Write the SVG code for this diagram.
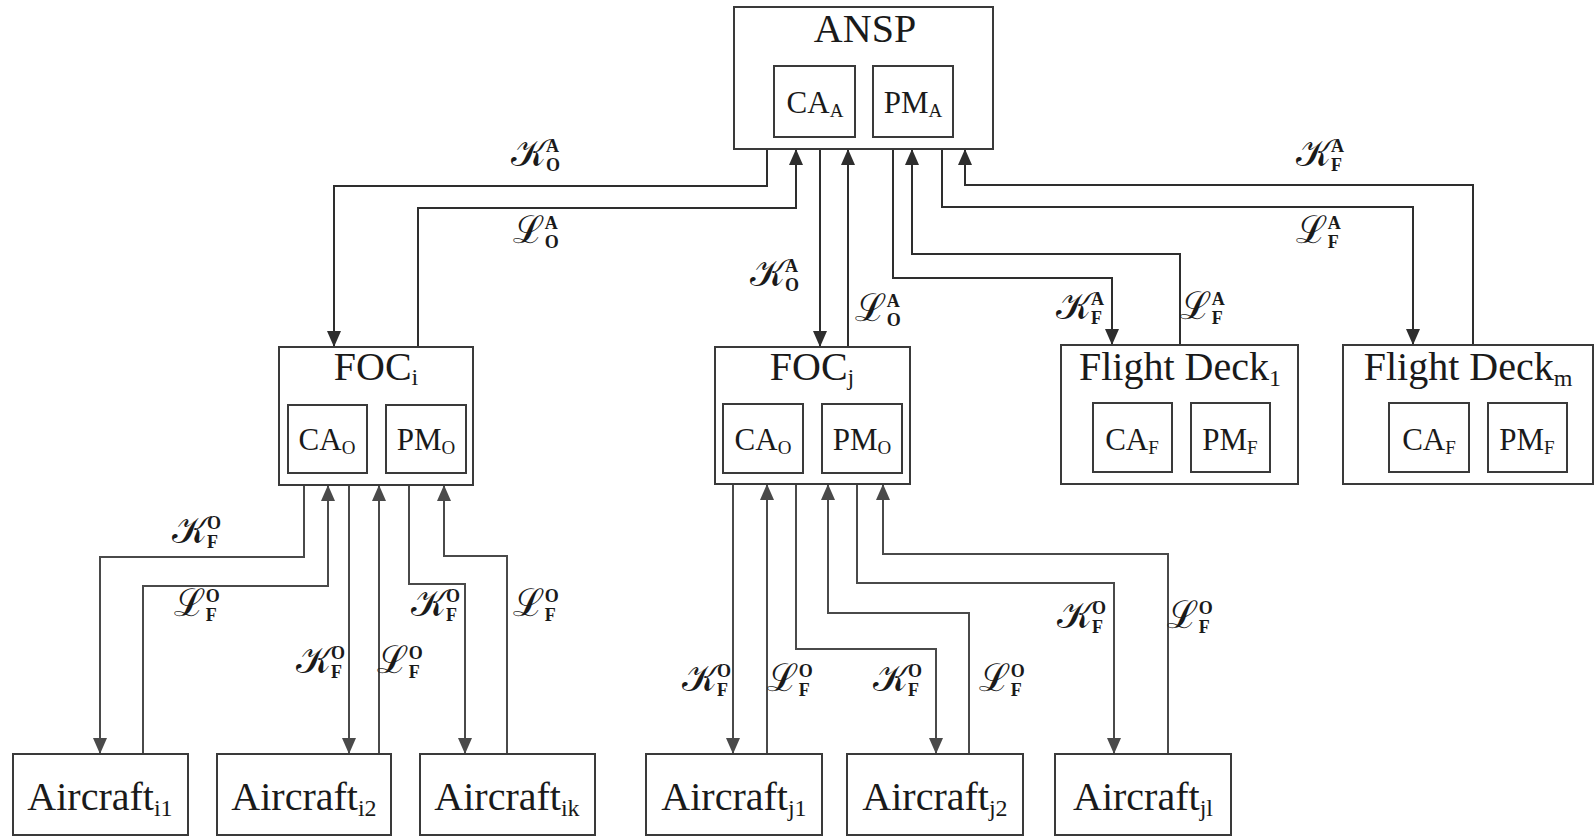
<svg xmlns="http://www.w3.org/2000/svg" width="1596" height="836" viewBox="0 0 1596 836">
<style>
.box{fill:#fff;stroke:#3a3a3a;stroke-width:2}
.inner{fill:#fff;stroke:#3a3a3a;stroke-width:2}
.t{font-family:"Liberation Serif","Times New Roman",serif;fill:#1a1a1a}
.title{font-size:40px}
.in{font-size:31px}
.sub{font-size:24px}
.isub{font-size:19px}
.c{fill:none;stroke:#2e2e2e;stroke-width:2}
.c2{fill:none;stroke:#4a4a4a;stroke-width:2}
.lb{font-family:"DejaVu Serif","Noto Sans",serif;font-size:38px;fill:#1a1a1a}
.s{font-family:"Liberation Serif",serif;font-size:18px;font-weight:bold}
</style>
<defs>
<marker id="ah" markerWidth="16" markerHeight="14" refX="16" refY="7" orient="auto" markerUnits="userSpaceOnUse"><path d="M0,0 L16,7 L0,14 Z" fill="#2e2e2e"/></marker>
<marker id="ah2" markerWidth="16" markerHeight="14" refX="16" refY="7" orient="auto" markerUnits="userSpaceOnUse"><path d="M0,0 L16,7 L0,14 Z" fill="#4a4a4a"/></marker>
</defs>

<g id="connectors">
<path class="c" marker-end="url(#ah)" d="M767,149 V186 H334 V347"/>
<path class="c" marker-end="url(#ah)" d="M418,347 V208 H796 V149"/>
<path class="c" marker-end="url(#ah)" d="M820,149 V347"/>
<path class="c" marker-end="url(#ah)" d="M848,347 V149"/>
<path class="c" marker-end="url(#ah)" d="M893,149 V278 H1112 V345"/>
<path class="c" marker-end="url(#ah)" d="M1180,345 V254 H912 V149"/>
<path class="c" marker-end="url(#ah)" d="M942,149 V207 H1413 V345"/>
<path class="c" marker-end="url(#ah)" d="M1473,345 V185 H965 V149"/>

<path class="c2" marker-end="url(#ah2)" d="M304,485 V557 H100 V754"/>
<path class="c2" marker-end="url(#ah2)" d="M143,754 V586 H328 V485"/>
<path class="c2" marker-end="url(#ah2)" d="M349,485 V754"/>
<path class="c2" marker-end="url(#ah2)" d="M379,754 V485"/>
<path class="c2" marker-end="url(#ah2)" d="M409,485 V584 H465 V754"/>
<path class="c2" marker-end="url(#ah2)" d="M507,754 V556 H444 V485"/>

<path class="c2" marker-end="url(#ah2)" d="M733,484 V754"/>
<path class="c2" marker-end="url(#ah2)" d="M767,754 V484"/>
<path class="c2" marker-end="url(#ah2)" d="M796,484 V649 H936 V754"/>
<path class="c2" marker-end="url(#ah2)" d="M969,754 V613 H828 V484"/>
<path class="c2" marker-end="url(#ah2)" d="M857,484 V583 H1114 V754"/>
<path class="c2" marker-end="url(#ah2)" d="M1168,754 V554 H883 V484"/>
</g>

<g id="labels">
<text class="lb" x="511" y="166">𝒦<tspan class="s" dy="-14">A</tspan><tspan class="s" dx="-13" dy="19">O</tspan></text>
<text class="lb" x="513" y="243">ℒ<tspan class="s" dy="-14">A</tspan><tspan class="s" dx="-13" dy="19">O</tspan></text>
<text class="lb" x="750" y="286">𝒦<tspan class="s" dy="-14">A</tspan><tspan class="s" dx="-13" dy="19">O</tspan></text>
<text class="lb" x="855" y="321">ℒ<tspan class="s" dy="-14">A</tspan><tspan class="s" dx="-13" dy="19">O</tspan></text>
<text class="lb" x="1056" y="319">𝒦<tspan class="s" dy="-14">A</tspan><tspan class="s" dx="-13" dy="19">F</tspan></text>
<text class="lb" x="1180" y="319">ℒ<tspan class="s" dy="-14">A</tspan><tspan class="s" dx="-13" dy="19">F</tspan></text>
<text class="lb" x="1296" y="166">𝒦<tspan class="s" dy="-14">A</tspan><tspan class="s" dx="-13" dy="19">F</tspan></text>
<text class="lb" x="1296" y="243">ℒ<tspan class="s" dy="-14">A</tspan><tspan class="s" dx="-13" dy="19">F</tspan></text>

<text class="lb" x="172" y="543">𝒦<tspan class="s" dy="-14">O</tspan><tspan class="s" dx="-14" dy="19">F</tspan></text>
<text class="lb" x="174" y="616">ℒ<tspan class="s" dy="-14">O</tspan><tspan class="s" dx="-14" dy="19">F</tspan></text>
<text class="lb" x="296" y="673">𝒦<tspan class="s" dy="-14">O</tspan><tspan class="s" dx="-14" dy="19">F</tspan></text>
<text class="lb" x="377" y="673">ℒ<tspan class="s" dy="-14">O</tspan><tspan class="s" dx="-14" dy="19">F</tspan></text>
<text class="lb" x="411" y="616">𝒦<tspan class="s" dy="-14">O</tspan><tspan class="s" dx="-14" dy="19">F</tspan></text>
<text class="lb" x="513" y="616">ℒ<tspan class="s" dy="-14">O</tspan><tspan class="s" dx="-14" dy="19">F</tspan></text>
<text class="lb" x="682" y="691">𝒦<tspan class="s" dy="-14">O</tspan><tspan class="s" dx="-14" dy="19">F</tspan></text>
<text class="lb" x="767" y="691">ℒ<tspan class="s" dy="-14">O</tspan><tspan class="s" dx="-14" dy="19">F</tspan></text>
<text class="lb" x="873" y="691">𝒦<tspan class="s" dy="-14">O</tspan><tspan class="s" dx="-14" dy="19">F</tspan></text>
<text class="lb" x="979" y="691">ℒ<tspan class="s" dy="-14">O</tspan><tspan class="s" dx="-14" dy="19">F</tspan></text>
<text class="lb" x="1057" y="628">𝒦<tspan class="s" dy="-14">O</tspan><tspan class="s" dx="-14" dy="19">F</tspan></text>
<text class="lb" x="1167" y="628">ℒ<tspan class="s" dy="-14">O</tspan><tspan class="s" dx="-14" dy="19">F</tspan></text>
</g>

<g id="ansp">
<rect class="box" x="734" y="7" width="259" height="142"/>
<text class="t title" x="865" y="42" text-anchor="middle">ANSP</text>
<rect class="inner" x="774" y="66" width="81" height="71"/>
<text class="t in" x="815" y="113" text-anchor="middle">CA<tspan class="isub" dy="4">A</tspan></text>
<rect class="inner" x="873" y="66" width="80" height="71"/>
<text class="t in" x="913" y="113" text-anchor="middle">PM<tspan class="isub" dy="4">A</tspan></text>
</g>

<g id="foc-i">
<rect class="box" x="279" y="347" width="194" height="138"/>
<text class="t title" x="376" y="380" text-anchor="middle">FOC<tspan class="sub" dy="5">i</tspan></text>
<rect class="inner" x="288" y="405" width="79" height="68"/>
<text class="t in" x="327" y="450" text-anchor="middle">CA<tspan class="isub" dy="4">O</tspan></text>
<rect class="inner" x="386" y="405" width="80" height="68"/>
<text class="t in" x="426" y="450" text-anchor="middle">PM<tspan class="isub" dy="4">O</tspan></text>
</g>

<g id="foc-j">
<rect class="box" x="715" y="347" width="195" height="137"/>
<text class="t title" x="812" y="380" text-anchor="middle">FOC<tspan class="sub" dy="5">j</tspan></text>
<rect class="inner" x="723" y="404" width="80" height="69"/>
<text class="t in" x="763" y="450" text-anchor="middle">CA<tspan class="isub" dy="4">O</tspan></text>
<rect class="inner" x="822" y="404" width="80" height="69"/>
<text class="t in" x="862" y="450" text-anchor="middle">PM<tspan class="isub" dy="4">O</tspan></text>
</g>

<g id="flight-deck-1">
<rect class="box" x="1061" y="345" width="237" height="139"/>
<text class="t title" x="1180" y="380" text-anchor="middle">Flight Deck<tspan class="sub" dy="6">1</tspan></text>
<rect class="inner" x="1093" y="403" width="79" height="69"/>
<text class="t in" x="1132" y="450" text-anchor="middle">CA<tspan class="isub" dy="4">F</tspan></text>
<rect class="inner" x="1191" y="403" width="79" height="69"/>
<text class="t in" x="1230" y="450" text-anchor="middle">PM<tspan class="isub" dy="4">F</tspan></text>
</g>

<g id="flight-deck-m">
<rect class="box" x="1343" y="345" width="250" height="139"/>
<text class="t title" x="1468" y="380" text-anchor="middle">Flight Deck<tspan class="sub" dy="6">m</tspan></text>
<rect class="inner" x="1389" y="403" width="80" height="69"/>
<text class="t in" x="1429" y="450" text-anchor="middle">CA<tspan class="isub" dy="4">F</tspan></text>
<rect class="inner" x="1488" y="403" width="79" height="69"/>
<text class="t in" x="1527" y="450" text-anchor="middle">PM<tspan class="isub" dy="4">F</tspan></text>
</g>

<g id="aircraft-i1">
<rect class="box" x="13" y="754" width="175" height="81"/>
<text class="t title" x="100" y="810" text-anchor="middle">Aircraft<tspan class="sub" dy="6">i1</tspan></text>
</g>
<g id="aircraft-i2">
<rect class="box" x="217" y="754" width="174" height="81"/>
<text class="t title" x="304" y="810" text-anchor="middle">Aircraft<tspan class="sub" dy="6">i2</tspan></text>
</g>
<g id="aircraft-ik">
<rect class="box" x="420" y="754" width="175" height="81"/>
<text class="t title" x="507" y="810" text-anchor="middle">Aircraft<tspan class="sub" dy="6">ik</tspan></text>
</g>
<g id="aircraft-j1">
<rect class="box" x="646" y="754" width="176" height="81"/>
<text class="t title" x="734" y="810" text-anchor="middle">Aircraft<tspan class="sub" dy="6">j1</tspan></text>
</g>
<g id="aircraft-j2">
<rect class="box" x="847" y="754" width="176" height="81"/>
<text class="t title" x="935" y="810" text-anchor="middle">Aircraft<tspan class="sub" dy="6">j2</tspan></text>
</g>
<g id="aircraft-jl">
<rect class="box" x="1055" y="754" width="176" height="81"/>
<text class="t title" x="1143" y="810" text-anchor="middle">Aircraft<tspan class="sub" dy="6">jl</tspan></text>
</g>
</svg>
